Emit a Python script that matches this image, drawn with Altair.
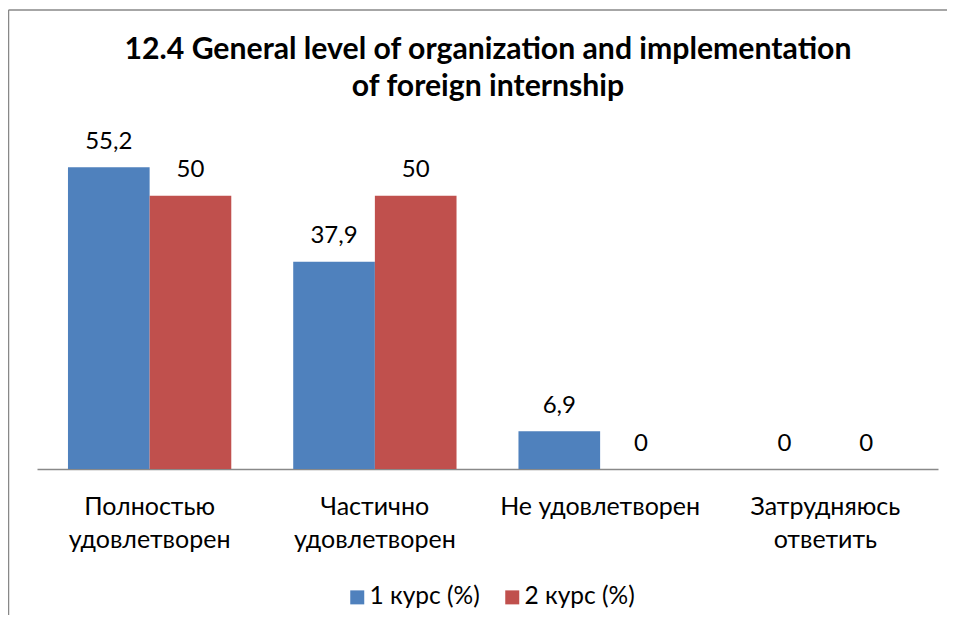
import altair as alt
import pandas as pd

# ---- data ----
categories = ["Полностью удовлетворен", "Частично удовлетворен", "Не удовлетворен", "Затрудняюсь ответить"]
series = ["1 курс (%)", "2 курс (%)"]
course1 = [55.2, 37.9, 6.9, 0]
course2 = [50, 50, 0, 0]
colors = ["#4F81BD", "#C0504D"]
title_lines = ["12.4 General level of organization and implementation", "of foreign internship"]

rows = []
for cat, v1, v2 in zip(categories, course1, course2):
    for s, v in zip(series, (v1, v2)):
        rows.append({"category": cat, "series": s, "value": v,
                     "label": f"{v:g}".replace(".", ",")})
df = pd.DataFrame(rows)
one = pd.DataFrame({"k": [0]})

FONT = "Lato"

base = alt.Chart(df).encode(
    x=alt.X("category:N", sort=categories,
            scale=alt.Scale(paddingInner=0.275, paddingOuter=0.1375),
            axis=alt.Axis(title=None, labelAngle=0, ticks=False, tickSize=0, grid=False,
                          domainColor="#898989", domainWidth=1.5,
                          labelFont=FONT, labelFontSize=25, labelColor="black",
                          labelBaseline="alphabetic", labelPadding=45.5, labelLineHeight=33,
                          labelOverlap=False, labelLimit=400,
                          labelExpr="datum.label == 'Не удовлетворен' ? datum.label : split(datum.label, ' ')")),
    xOffset=alt.XOffset("series:N", sort=series,
                        scale=alt.Scale(paddingInner=0, paddingOuter=0)),
    y=alt.Y("value:Q", scale=alt.Scale(domain=[0, 60]), axis=None),
)

bars = base.mark_bar().encode(
    color=alt.Color("series:N", sort=series,
                    scale=alt.Scale(domain=series, range=colors),
                    legend=alt.Legend(title=None, orient="none", direction="horizontal",
                                      legendX=308, legendY=444,
                                      symbolType="square", symbolSize=196, symbolStrokeWidth=0,
                                      labelFont=FONT, labelFontSize=24.5, labelColor="black",
                                      labelOffset=0, columnPadding=20, labelLimit=300))
)

labels = base.mark_text(font=FONT, fontSize=24, color="black",
                        baseline="alphabetic", dy=-18.5).encode(text="label:N")

title = alt.Chart(one).mark_text(
    text=title_lines, font=FONT, fontSize=30.2, fontWeight="bold", color="black",
    align="center", baseline="alphabetic", lineHeight=36.5
).encode(x=alt.value(451), y=alt.value(-82))

border_top = alt.Chart(one).mark_rule(stroke="#888888", strokeWidth=1.5).encode(
    x=alt.value(-28.5), x2=alt.value(910), y=alt.value(-131)
)
border_left = alt.Chart(one).mark_rule(stroke="#888888", strokeWidth=1.5).encode(
    x=alt.value(-28.5), y=alt.value(-131), y2=alt.value(474)
)

chart = alt.layer(border_top, border_left, bars, labels, title).properties(
    width=901, height=328,
    autosize=alt.AutoSizeParams(type="none"),
    padding={"left": 29, "top": 133, "right": 9, "bottom": 146},
    background="white",
).configure_view(strokeWidth=0)

chart.save("out.html", embed_options={"renderer": "svg", "actions": False})
